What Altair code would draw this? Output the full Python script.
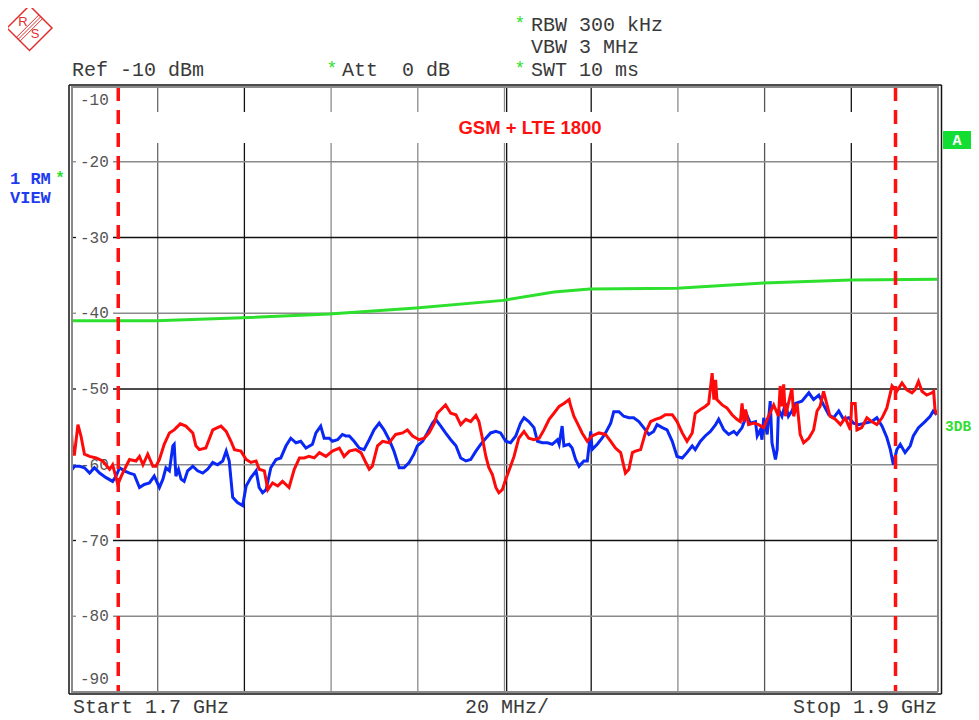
import altair as alt
import pandas as pd

# ---------------- data (MHz, dBm) ----------------
red_freq = [1700.0, 1700.4, 1700.8, 1701.6, 1702.3, 1703.1, 1704.3, 1705.8, 1707.3, 1708.9, 1709.6, 1710.3, 1710.8, 1711.6, 1712.7, 1713.5, 1715.0, 1715.8, 1716.6, 1717.7, 1718.9, 1719.6, 1720.4, 1721.5, 1722.7, 1723.8, 1725.2, 1726.5, 1728.1, 1728.8, 1729.6, 1731.1, 1732.7, 1733.8, 1734.6, 1735.8, 1736.9, 1737.7, 1739.2, 1740.4, 1741.5, 1742.7, 1743.4, 1744.6, 1745.4, 1746.5, 1747.7, 1748.8, 1750.3, 1751.5, 1752.7, 1753.8, 1754.9, 1756.1, 1757.3, 1758.8, 1760.3, 1761.9, 1763.0, 1764.2, 1765.7, 1766.9, 1768.0, 1768.8, 1769.5, 1770.7, 1771.9, 1773.4, 1774.9, 1776.5, 1777.6, 1778.8, 1780.3, 1781.5, 1782.6, 1783.8, 1784.5, 1785.7, 1786.4, 1787.6, 1788.8, 1789.9, 1791.1, 1792.2, 1793.4, 1794.1, 1794.9, 1795.7, 1796.4, 1797.2, 1798.0, 1798.7, 1799.5, 1800.3, 1801.4, 1802.2, 1803.3, 1804.5, 1805.6, 1806.8, 1808.0, 1809.1, 1810.3, 1811.4, 1812.6, 1813.7, 1814.9, 1815.2, 1816.0, 1816.8, 1817.9, 1819.1, 1820.2, 1821.8, 1823.3, 1824.5, 1825.6, 1826.8, 1827.9, 1828.7, 1829.5, 1830.2, 1831.4, 1832.5, 1833.7, 1834.8, 1836.0, 1837.1, 1838.7, 1839.8, 1841.0, 1842.1, 1843.3, 1844.0, 1845.2, 1846.3, 1847.1, 1847.9, 1848.3, 1848.7, 1849.0, 1850.2, 1851.3, 1852.5, 1853.6, 1854.4, 1854.8, 1855.2, 1855.6, 1856.3, 1857.5, 1858.6, 1859.8, 1860.9, 1862.1, 1863.2, 1863.6, 1864.0, 1864.4, 1864.8, 1865.5, 1866.3, 1866.7, 1867.5, 1868.2, 1869.0, 1870.2, 1871.3, 1872.1, 1872.8, 1873.6, 1874.4, 1875.1, 1876.3, 1877.5, 1878.6, 1879.8, 1880.1, 1880.9, 1881.3, 1882.4, 1883.6, 1884.7, 1885.9, 1887.1, 1888.2, 1889.4, 1890.5, 1891.7, 1892.8, 1894.0, 1894.7, 1895.5, 1896.3, 1897.4, 1898.6, 1899.0, 1899.3, 1899.7]
red_level = [-54.7, -58.6, -58.6, -54.7, -56.2, -58.6, -58.9, -59.1, -59.5, -60.6, -60.0, -61.5, -62.6, -61.5, -60.2, -59.3, -59.5, -58.9, -60.0, -58.6, -60.2, -60.2, -59.3, -57.3, -55.8, -55.4, -54.6, -54.9, -55.8, -57.5, -58.0, -57.8, -55.4, -55.1, -54.9, -55.6, -56.9, -58.0, -58.2, -59.3, -59.7, -59.5, -60.6, -60.8, -63.3, -62.4, -62.8, -62.2, -63.0, -60.6, -59.1, -59.1, -58.9, -59.1, -58.4, -58.9, -58.2, -57.8, -58.9, -58.2, -58.0, -58.4, -59.7, -60.6, -60.2, -57.5, -56.9, -57.1, -56.0, -55.8, -55.4, -56.2, -56.7, -56.5, -55.8, -54.5, -53.2, -52.5, -52.1, -53.2, -53.4, -54.7, -54.0, -54.3, -53.5, -54.3, -56.5, -58.9, -60.4, -61.3, -63.0, -63.7, -63.3, -61.9, -60.2, -58.9, -56.5, -55.6, -56.5, -56.7, -56.5, -55.4, -54.0, -53.2, -52.3, -51.9, -51.4, -52.1, -53.6, -54.5, -55.8, -56.9, -56.2, -55.8, -56.0, -56.9, -57.8, -58.4, -61.1, -60.6, -58.4, -58.2, -58.0, -55.8, -54.3, -54.0, -53.8, -53.4, -53.4, -54.3, -55.8, -56.9, -55.8, -53.2, -52.7, -52.3, -51.9, -47.9, -51.4, -48.8, -51.4, -52.1, -52.5, -53.4, -54.0, -54.3, -51.9, -54.3, -52.7, -54.7, -54.5, -54.7, -55.1, -53.6, -52.1, -53.6, -49.6, -52.3, -49.4, -53.6, -51.9, -49.9, -53.6, -51.9, -56.0, -57.1, -56.5, -55.4, -52.9, -52.3, -50.3, -52.1, -53.6, -54.0, -54.7, -53.8, -55.4, -51.9, -51.9, -55.4, -55.1, -53.8, -54.3, -54.7, -53.8, -52.5, -49.6, -50.3, -49.2, -50.1, -50.5, -50.1, -49.0, -50.3, -50.8, -50.5, -50.3, -52.7, -53.4]

blue_freq = [1700.0, 1700.8, 1702.0, 1703.1, 1704.3, 1705.4, 1706.6, 1708.1, 1709.6, 1710.4, 1711.2, 1712.3, 1713.5, 1714.6, 1715.8, 1716.9, 1718.1, 1719.2, 1720.4, 1721.2, 1721.9, 1722.7, 1723.5, 1723.8, 1724.2, 1724.8, 1725.4, 1726.1, 1726.9, 1728.1, 1729.2, 1730.4, 1731.5, 1732.7, 1733.8, 1735.0, 1735.8, 1736.5, 1737.3, 1738.4, 1739.6, 1740.4, 1741.5, 1742.7, 1743.4, 1744.2, 1745.0, 1746.1, 1747.3, 1748.4, 1749.6, 1750.7, 1751.9, 1753.0, 1754.2, 1755.7, 1756.5, 1757.6, 1758.4, 1759.6, 1760.3, 1761.5, 1762.6, 1763.4, 1764.2, 1765.3, 1766.5, 1767.6, 1768.8, 1769.9, 1771.1, 1772.2, 1773.4, 1774.5, 1775.7, 1776.8, 1778.0, 1779.1, 1779.9, 1781.1, 1782.2, 1783.4, 1784.1, 1785.3, 1786.4, 1787.6, 1788.8, 1789.9, 1791.1, 1792.2, 1793.4, 1794.5, 1795.7, 1796.8, 1798.0, 1799.1, 1800.3, 1801.4, 1802.6, 1803.7, 1804.5, 1805.6, 1806.8, 1807.6, 1808.7, 1809.9, 1811.0, 1812.2, 1812.6, 1813.3, 1813.7, 1814.9, 1815.6, 1816.4, 1817.2, 1818.3, 1819.1, 1819.9, 1820.2, 1821.4, 1822.5, 1823.3, 1824.5, 1825.2, 1826.4, 1827.5, 1828.7, 1829.8, 1831.0, 1832.1, 1833.3, 1834.4, 1835.2, 1836.4, 1837.5, 1838.7, 1839.8, 1841.0, 1842.1, 1843.3, 1844.0, 1845.2, 1846.3, 1847.5, 1848.7, 1849.4, 1850.6, 1851.7, 1852.9, 1853.6, 1854.8, 1855.9, 1856.7, 1857.9, 1858.3, 1859.0, 1859.4, 1859.8, 1860.6, 1861.3, 1861.7, 1862.5, 1862.9, 1863.2, 1864.0, 1864.8, 1865.5, 1866.3, 1867.1, 1868.6, 1870.2, 1871.3, 1872.5, 1873.6, 1874.8, 1875.9, 1877.1, 1878.2, 1879.4, 1880.5, 1881.7, 1883.2, 1884.7, 1885.9, 1887.1, 1888.2, 1889.0, 1889.7, 1890.5, 1891.3, 1892.4, 1893.6, 1894.3, 1895.5, 1897.0, 1898.2, 1898.9, 1899.7]
blue_level = [-60.8, -60.2, -60.2, -60.4, -61.1, -60.4, -61.1, -61.7, -62.2, -61.5, -60.4, -60.8, -61.1, -61.3, -63.0, -62.6, -62.4, -61.5, -63.0, -61.9, -60.4, -60.8, -57.5, -57.3, -61.5, -60.6, -61.9, -62.2, -60.8, -60.2, -60.8, -61.1, -60.6, -59.7, -60.0, -59.5, -58.2, -59.5, -64.3, -65.0, -65.4, -62.8, -61.7, -60.8, -63.0, -63.7, -63.3, -60.4, -59.3, -59.1, -57.5, -56.5, -57.1, -56.9, -57.8, -57.3, -55.8, -54.9, -56.5, -56.5, -56.9, -56.7, -56.0, -56.2, -56.2, -56.9, -57.8, -58.0, -56.7, -55.4, -54.5, -55.4, -56.7, -58.2, -60.4, -60.4, -59.7, -58.6, -57.5, -56.9, -55.8, -54.5, -54.0, -54.9, -55.8, -56.7, -57.5, -59.1, -59.5, -59.3, -58.2, -57.3, -56.5, -55.8, -55.6, -55.8, -56.9, -57.1, -56.2, -54.5, -53.8, -54.3, -55.1, -56.9, -57.1, -57.1, -57.3, -56.7, -57.3, -54.9, -57.5, -57.3, -57.8, -59.3, -60.2, -59.5, -59.5, -55.6, -58.0, -57.3, -56.5, -55.8, -54.5, -53.0, -53.0, -53.6, -53.8, -53.8, -54.3, -55.1, -56.0, -55.6, -54.7, -55.1, -55.4, -56.9, -58.9, -59.1, -58.4, -57.5, -58.0, -56.9, -56.2, -55.6, -54.7, -54.0, -55.4, -56.0, -55.6, -56.0, -55.1, -53.4, -54.5, -54.3, -56.2, -55.4, -56.7, -53.8, -56.0, -51.6, -57.1, -59.3, -58.0, -52.7, -53.6, -51.9, -53.6, -52.9, -51.9, -51.6, -50.5, -51.4, -50.8, -52.1, -53.4, -53.8, -52.9, -54.0, -53.8, -54.5, -54.7, -54.5, -54.3, -53.8, -54.9, -56.4, -58.0, -60.0, -58.0, -57.3, -58.4, -57.5, -56.2, -55.1, -54.3, -53.6, -52.9, -53.4]

limit_freq = [1700.0, 1719.7, 1739.5, 1759.6, 1779.6, 1799.7, 1811.4, 1819.7, 1839.8, 1859.8, 1879.8, 1900.0]
limit_level = [-41.0, -41.0, -40.6, -40.1, -39.3, -38.3, -37.2, -36.8, -36.7, -36.0, -35.6, -35.5]

marker_freq = [1710.9, 1890.2]

vgrid_freq = [1720, 1740, 1760, 1780, 1800, 1800.5, 1820, 1840, 1860, 1880]
vgrid_color = ["#6a6a6a", "#111111", "#8a8a8a", "#8a8a8a", "#8a8a8a", "#111111", "#111111", "#8a8a8a", "#555555", "#111111"]
hgrid_level = [-20, -30, -40, -50, -60, -70, -80]
hgrid_color = ["#8a8a8a", "#111111", "#8a8a8a", "#111111", "#8a8a8a", "#111111", "#8a8a8a"]
ylabel_text = ["-20", "-30", "-40", "-50", "-60", "-70", "-80"]

W, H = 867, 606
xs = alt.Scale(domain=[1700, 1900], nice=False, zero=False)
ys = alt.Scale(domain=[-90, -10], nice=False, zero=False)
one = pd.DataFrame({"a": [0]})

MONO = "Liberation Mono"
TXT = "#3a3a3a"
GREEN = "#2ee02e"
NB = "\u00a0"


def txt(text, x, y, size=20, color=TXT, align="left", font=MONO, weight="normal"):
    return alt.Chart(one).mark_text(
        text=text, align=align, baseline="middle", fontSize=size, font=font,
        fontWeight=weight, color=color
    ).encode(x=alt.value(x), y=alt.value(y))


def seg(x, y, x2, y2, color, width=1.0):
    return alt.Chart(one).mark_rule(color=color, strokeWidth=width).encode(
        x=alt.value(x), y=alt.value(y), x2=alt.value(x2), y2=alt.value(y2))


layers = []

# vertical grid
vg = pd.DataFrame({"f": vgrid_freq, "c": vgrid_color})
layers.append(alt.Chart(vg).mark_rule(strokeWidth=1.3).encode(
    x=alt.X("f:Q", scale=xs, axis=None), y=alt.value(0), y2=alt.value(H),
    color=alt.Color("c:N", scale=None)))

# horizontal grid (broken where the level labels sit)
hg = pd.DataFrame({"lvl": hgrid_level, "c": hgrid_color, "t": ylabel_text})
layers.append(alt.Chart(hg).mark_rule(strokeWidth=1.3).encode(
    y=alt.Y("lvl:Q", scale=ys, axis=None), x=alt.value(42), x2=alt.value(W),
    color=alt.Color("c:N", scale=None)))
layers.append(alt.Chart(hg).mark_rule(strokeWidth=1.3).encode(
    y=alt.Y("lvl:Q", scale=ys, axis=None), x=alt.value(1), x2=alt.value(5),
    color=alt.Color("c:N", scale=None)))

# white band behind title
layers.append(alt.Chart(one).mark_rect(color="white").encode(
    x=alt.value(2), x2=alt.value(W - 2), y=alt.value(26), y2=alt.value(57)))

# level labels
layers.append(alt.Chart(hg).mark_text(align="left", baseline="middle", fontSize=16,
                                      font=MONO, color="#555555").encode(
    y=alt.Y("lvl:Q", scale=ys, axis=None), x=alt.value(9), text="t:N"))
layers.append(txt("-10", 9, 14, size=16, color="#555555"))
layers.append(txt("-90", 9, 593, size=16, color="#555555"))

# limit line
lim = pd.DataFrame({"f": limit_freq, "v": limit_level})
layers.append(alt.Chart(lim).mark_line(color=GREEN, strokeWidth=3).encode(
    x=alt.X("f:Q", scale=xs, axis=None), y=alt.Y("v:Q", scale=ys, axis=None)))

# traces
blue = pd.DataFrame({"f": blue_freq, "v": blue_level})
red = pd.DataFrame({"f": red_freq, "v": red_level})
layers.append(alt.Chart(blue).mark_line(color="#0a28f5", strokeWidth=3, clip=True).encode(
    x=alt.X("f:Q", scale=xs, axis=None), y=alt.Y("v:Q", scale=ys, axis=None)))
layers.append(alt.Chart(red).mark_line(color="#ff0a0a", strokeWidth=3, clip=True).encode(
    x=alt.X("f:Q", scale=xs, axis=None), y=alt.Y("v:Q", scale=ys, axis=None)))

# display line markers
mk = pd.DataFrame({"f": marker_freq})
layers.append(alt.Chart(mk).mark_rule(color="#ff1010", strokeWidth=3.5, strokeDash=[14, 9]).encode(
    x=alt.X("f:Q", scale=xs, axis=None), y=alt.value(1), y2=alt.value(H)))

# frame: inner gray, outer black
layers += [
    seg(1, 0, 1, H, "#8a8a8a", 2), seg(W, 0, W, H, "#8a8a8a", 2),
    seg(0, 1, W, 1, "#8a8a8a", 2), seg(0, H, W, H, "#8a8a8a", 2),
    seg(-2, -1, -2, H + 2, "#111111", 1.5), seg(W + 3.5, -1, W + 3.5, H + 2, "#111111", 1.5),
    seg(-2, -1, W + 3.5, -1, "#111111", 1.5), seg(-2, H + 2, W + 3.5, H + 2, "#111111", 1.5),
]

# title inside
layers.append(txt("GSM + LTE 1800", 459, 42, size=18.5, color="#ff1010",
                  font="Liberation Sans", align="center", weight="bold"))

# header
layers += [
    txt("Ref -10 dBm", 1, -16),
    txt("*", 261, -17, size=18, color=GREEN, align="center"),
    txt("Att" + NB + NB + "0 dB", 271, -16),
    txt("*", 449, -62, size=18, color=GREEN, align="center"),
    txt("RBW 300 kHz", 460, -61),
    txt("VBW 3 MHz", 460, -39),
    txt("*", 449, -17, size=18, color=GREEN, align="center"),
    txt("SWT 10 ms", 460, -16),
]

# footer
layers += [
    txt("Start 1.7 GHz", 2, 621),
    txt("20 MHz/", 436, 621, align="center"),
    txt("Stop 1.9 GHz", 866, 621, align="right"),
]

# left side
layers += [
    txt("1 RM", -61, 93, size=17, color="#1f3cf0", weight="bold"),
    txt("VIEW", -61, 112, size=17, color="#1f3cf0", weight="bold"),
    txt("*", -11, 92, size=16, color=GREEN, align="center", weight="bold"),
]

# right side
layers.append(alt.Chart(one).mark_rect(color="#11dd33").encode(
    x=alt.value(872), x2=alt.value(900), y=alt.value(45), y2=alt.value(63)))
layers.append(txt("A", 886, 54, size=15, color="white", align="center", weight="bold"))
layers.append(txt("3DB", 874, 341, size=14.5, color="#33dd33", weight="bold"))

# logo
layers.append(alt.Chart(one).mark_point(shape="diamond", size=2025, filled=False,
                                        color="#e03030", strokeWidth=1.5, opacity=1).encode(
    x=alt.value(-41.5), y=alt.value(-58)))
layers += [
    seg(-52.75, -46.75, -30.25, -69.25, "#e03030", 1),
    seg(-50.9, -44.9, -28.4, -67.4, "#e03030", 1),
    seg(-54.6, -48.6, -32.1, -71.1, "#e03030", 1),
    txt("R", -48, -64, size=13, color="#e03030", font="Liberation Sans", align="center"),
    txt("S", -36, -52, size=13, color="#e03030", font="Liberation Sans", align="center"),
]

chart = alt.layer(*layers).properties(
    width=W, height=H,
    padding={"left": 63, "top": 78, "right": 33, "bottom": 28},
    autosize=alt.AutoSizeParams(type="none"),
    background="white",
).configure_view(stroke=None)

chart.save("out.html", embed_options={"renderer": "svg", "actions": False})
